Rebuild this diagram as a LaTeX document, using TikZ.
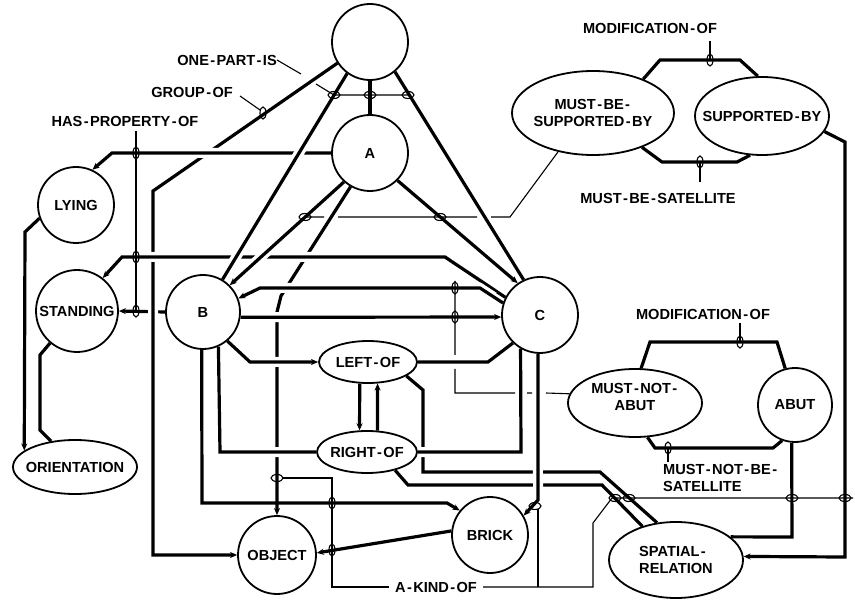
\documentclass[tikz,border=0pt]{standalone}
\usepackage{fontspec}
\setmainfont{Liberation Sans}
\usetikzlibrary{shapes.geometric,arrows.meta}
\newcommand\hy{\kern1.4pt-\kern1.4pt}
\begin{document}
\begin{tikzpicture}[x=1pt,y=-1pt,
  every node/.style={font=\fontsize{14.6}{17}\selectfont\bfseries},
  cnode/.style={circle,draw,line width=1.8pt,inner sep=0pt,minimum size=#1},
  enode/.style={ellipse,draw,line width=1.8pt,inner sep=0pt},
  thk/.style={line width=3.2pt},
  thn/.style={line width=1.1pt},
  tip/.style={-{Stealth[length=7pt,width=6pt]}},
  over/.style 2 args={preaction={draw=white,line width=10pt,arrows=-,shorten <=#1,shorten >=#2}},
  ov/.style={over={9pt}{9pt}},
  txt/.style={inner sep=0pt},
]
\useasboundingbox (0,0) rectangle (855,604);

% ---------- nodes ----------
\node[cnode=76pt] (T) at (370,42) {};
\node[cnode=76pt] (A) at (370,153) {A};
\node[cnode=76pt] (LY) at (76,205) {LYING};
\node[cnode=82pt] (ST) at (77,311) {STANDING};
\node[cnode=74pt] (B) at (203,312) {B};
\node[cnode=76pt] (C) at (540,315) {C};
\node[cnode=78pt] (OB) at (277,555) {OBJECT};
\node[cnode=76pt] (BR) at (490,535) {BRICK};
\node[cnode=74pt] (AB) at (795,405) {ABUT};
\node[enode,minimum width=124pt,minimum height=54pt,label=center:ORIENTATION] (OR) at (75,467) {};
\node[enode,minimum width=98pt,minimum height=42pt,label=center:{LEFT\hy OF}] (LE) at (368,362) {};
\node[enode,minimum width=100pt,minimum height=42pt,label=center:{RIGHT\hy OF}] (RI) at (367,452) {};
\node[enode,minimum width=134pt,minimum height=76pt,label={[align=left]center:{SPATIAL\hy\\RELATION}}] (SP) at (676,560) {};
\node[enode,minimum width=162pt,minimum height=84pt,label={[align=center]center:{MUST\hy BE\hy\\SUPPORTED\hy BY}}] (MB) at (593,113) {};
\node[enode,minimum width=134pt,minimum height=78pt,label=center:{SUPPORTED\hy BY}] (SB) at (762,116) {};
\node[enode,minimum width=134pt,minimum height=68pt,label={[align=center,yshift=6pt]center:{MUST\hy NOT\hy\\ABUT}}] (MN) at (635,403) {};

% ---------- labels ----------
\node[txt,anchor=east] (lone) at (277,60) {ONE\hy PART\hy IS};
\node[txt,anchor=east] (lgrp) at (233,92) {GROUP\hy OF};
\node[txt] (lhas) at (125,121) {HAS\hy PROPERTY\hy OF};
\node[txt] (lmodA) at (650,28) {MODIFICATION\hy OF};
\node[txt] (lmbs) at (658,198) {MUST\hy BE\hy SATELLITE};
\node[txt] (lmodB) at (703,314) {MODIFICATION\hy OF};
\node[txt,anchor=north west,align=left] (lmnbs) at (663,464) {MUST\hy NOT\hy BE\hy\\SATELLITE};
\node[txt,inner xsep=6pt] (lak) at (436,587) {A\hy KIND\hy OF};

% ---------- under connectors ----------
\draw[thk,tip] (A.240) -- (281,296) -- (277,312) -- (OB.north);
\draw[thk,tip] (B.west) -- (ST.east);
\draw[thk] (T.south) -- (A.north);
\draw[thk] (T.-50) -- (C.115);
\draw[thk,tip] (A.-45) -- (C.125);
\draw[thk,tip] (B.268) -- (202,503) -- (447,503) -- (BR.141);
\draw[thk,tip] (LY.200) -- (25,232) -- (OR.162);
\draw[thk] (ST.230) -- (40,355) -- (40,430) -- (OR.133);
\draw[thk,tip] (BR.174) -- (OB.3);
\draw[thk,tip] (SB.-14) -- (845,142) -- (845,557) -- (SP.3);
\draw[thk] (AB.265) -- (792,537) -- (SP.23);
\draw[thk] (MB.34) -- (660,60) -- (740,60) -- (SB.96);
\draw[thk] (MB.-35) -- (662,162) -- (737,162) -- (SB.253);
\draw[thk] (MN.80) -- (650,342) -- (777,342) -- (AB.105);
\draw[thk] (MN.-70) -- (655,448) -- (773,448) -- (AB.250);
\draw[thk,tip] (LE.249) -- (RI.109);
\draw[thk,tip] (RI.64) -- (LE.-66);
\draw[thk] (LE.east) -- (488,362) -- (C.226);
\draw[thk] (LE.-20) -- (423,390) -- (423,472) -- (600,472) -- (SP.117);
\draw[thk] (RI.-33) -- (408,485) -- (602,485) -- (SP.135);

% ---------- over connectors (with gaps) ----------
\draw[thk,tip,ov] (T.213) -- (153,191) -- (153,555) -- (OB.west);
\draw[thk,tip,over={80pt}{9pt}] (C.153) -- (445,257) -- (122,257) -- (ST.52);
\draw[thk,tip,ov] (A.west) -- (112,153) -- (LY.65);
\draw[thk,ov] (T.234) -- (B.59);
\draw[thk,tip,ov] (A.228) -- (B.45);
\draw[thk,tip,over={30pt}{9pt}] (C.162) -- (480,288) -- (260,288) -- (B.21);
\draw[thk,tip,ov] (B.-8) -- (C.183);
\draw[thk,tip,ov] (B.-50) -- (250,362) -- (LE.west);
\draw[thk,ov] (B.-66) -- (220,452) -- (RI.west);
\draw[thk,over={2pt}{9pt}] (RI.east) -- (521,452) -- (C.240);
\draw[thk,tip,ov] (C.267) -- (538,500) -- (BR.30);

% ---------- pointers ----------
\draw[thn] (lone.east) -- (301,74) (316,84) -- (334,95) -- (408,95);
\draw[thn] (240,96) -- (260,110);
\draw[thn] (136,131) -- (136,311);
\draw[thn] (MB.228) -- (510,217) -- (491,217) (477,217) -- (338,217) (324,217) -- (305,217);
\draw[thn] (710,41) -- (710,60);
\draw[thn] (700,182) -- (700,162);
\draw[thn] (740,323) -- (740,342);
\draw[thn] (668,462) -- (668,448);
\draw[thn] (MN.172) -- (546,393) (532,393) -- (527,393) (515,393) -- (455,393) -- (455,369) (455,355) -- (455,281);
\draw[thn] (lak.west) -- (332,587) -- (332,478) -- (283,478);
\draw[thn] (lak.east) -- (593,587) -- (593,523) -- (612,498) -- (853,498);
\draw[thn] (538,587) -- (538,509);

% loops around the lines the pointers name
\foreach \p in {(334,95),(370,95),(408,95),(305,217),(440,217),(277,478),(615,498),(629,498),(792,498),(845,498),(535,506)}
  \draw[thn] \p ellipse[x radius=6,y radius=3.5];
\foreach \p in {(263,113),(136,153),(136,257),(136,311),(710,60),(700,162),(740,342),(668,448),(455,288),(455,317),(332,503),(332,550)}
  \draw[thn] \p ellipse[x radius=3,y radius=6];
\end{tikzpicture}
\end{document}
